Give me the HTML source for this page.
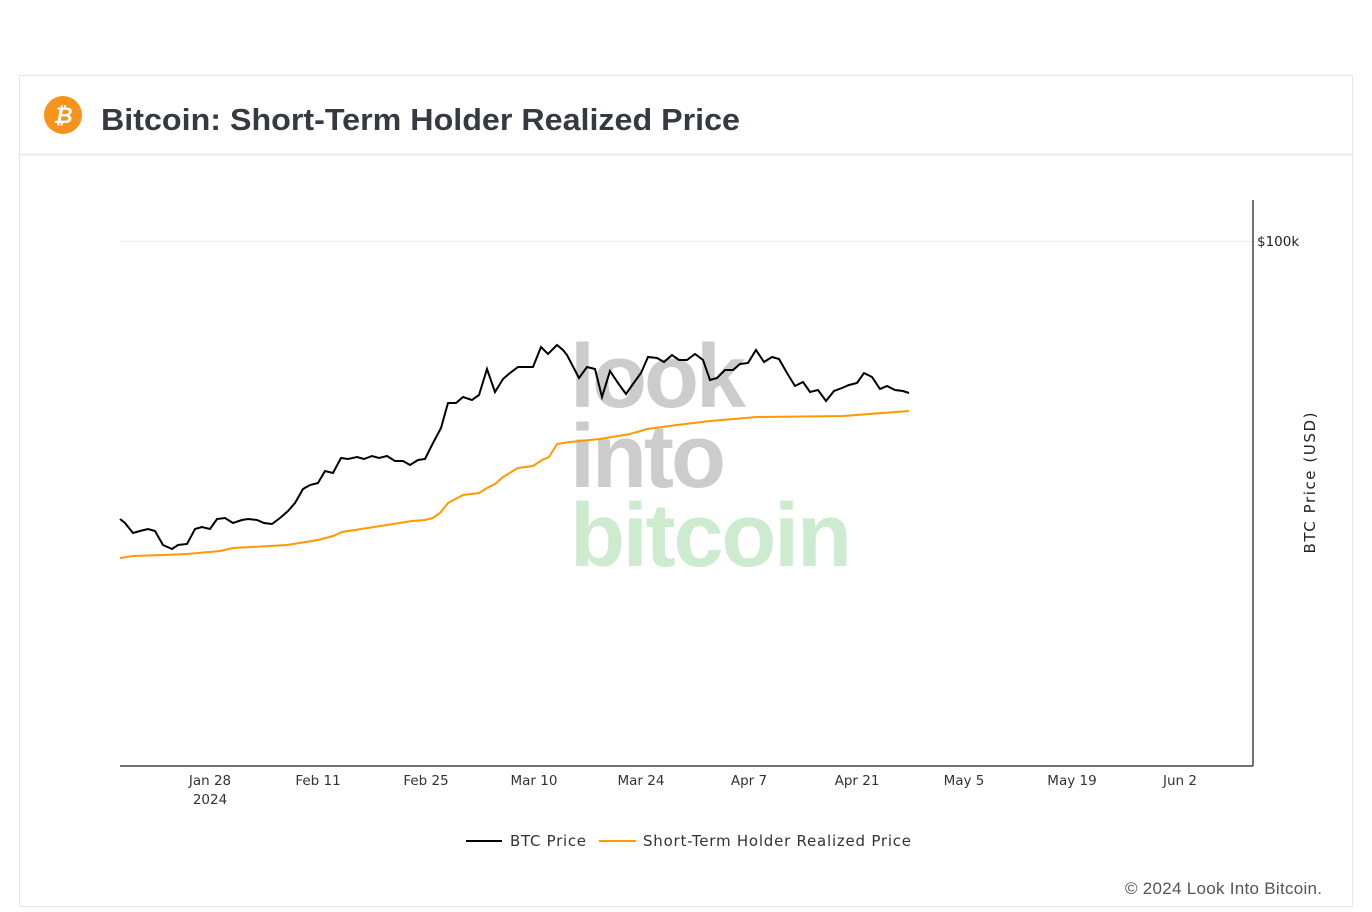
<!DOCTYPE html>
<html><head><meta charset="utf-8"><style>
html,body{margin:0;padding:0;background:#fff;width:1372px;height:912px;overflow:hidden;font-family:"Liberation Sans",sans-serif}
</style></head><body>
<svg width="1372" height="912" xmlns="http://www.w3.org/2000/svg" style="position:absolute;left:0;top:0">
<rect x="19.5" y="75.5" width="1333" height="831" fill="#fff" stroke="#e6e6e6"/>
<line x1="20" y1="154.5" x2="1352" y2="154.5" stroke="#ebebeb" stroke-width="2"/>
<circle cx="63" cy="115" r="19" fill="#f7931a"/>
<text x="63" y="123" font-size="22" font-weight="bold" fill="#fff" text-anchor="middle" font-style="italic">₿</text>
<text x="101" y="130" font-size="31" font-weight="bold" fill="#343a40" textLength="639" lengthAdjust="spacingAndGlyphs">Bitcoin: Short-Term Holder Realized Price</text>
<line x1="120" y1="241.5" x2="1253" y2="241.5" stroke="#eee"/>
<text x="570" y="407" font-size="90" font-weight="bold" fill="#cccccc" letter-spacing="-3">look</text>
<text x="570" y="487" font-size="90" font-weight="bold" fill="#cccccc" letter-spacing="-3">into</text>
<text x="570" y="566" font-size="90" font-weight="bold" fill="#cdeccf" textLength="282" lengthAdjust="spacing">bitcoin</text>
<line x1="1253" y1="200" x2="1253" y2="766" stroke="#444" stroke-width="1.5"/>
<line x1="120" y1="766" x2="1253" y2="766" stroke="#444" stroke-width="1.5"/>
<g font-family="DejaVu Sans, sans-serif">
<text x="1257" y="246" font-size="13.5" fill="#222">$100k</text>
<text transform="translate(1315,483) rotate(-90)" font-size="15" fill="#222" text-anchor="middle" textLength="141">BTC Price (USD)</text>
<g font-size="13.5" fill="#333" text-anchor="middle">
<text x="210" y="785">Jan 28</text><text x="210" y="804">2024</text>
<text x="318" y="785">Feb 11</text><text x="426" y="785">Feb 25</text>
<text x="534" y="785">Mar 10</text><text x="641" y="785">Mar 24</text>
<text x="749" y="785">Apr 7</text><text x="857" y="785">Apr 21</text>
<text x="964" y="785">May 5</text><text x="1072" y="785">May 19</text>
<text x="1180" y="785">Jun 2</text>
</g>
<text x="510" y="846" font-size="15" fill="#333" textLength="76">BTC Price</text>
<text x="643" y="846" font-size="15" fill="#333" textLength="268">Short-Term Holder Realized Price</text>
</g>
<polyline fill="none" stroke="#ff9900" stroke-width="2" points="120,558 133,556 163,555 187,554 220,551 233,548 287,545 318,540 333,536 342,532 387,525 412,521 425,520 433,518 440,513 448,503 463,495 479,493 487,488 495,484 503,477 518,468 533,466 542,460 549,457 557,444 570,442 600,439 630,434 647,429 677,425 710,421 757,417 843,416 909,411"/>
<polyline fill="none" stroke="#000" stroke-width="2" points="120,519 125,523 133,533 140,531 148,529 155,531 163,545 172,549 178,545 187,544 195,529 202,527 210,529 217,519 225,518 233,523 242,520 248,519 257,520 264,523 272,524 280,518 288,511 295,503 303,489 310,485 318,483 325,471 333,473 341,458 348,459 357,457 364,459 372,456 379,458 387,456 395,461 403,461 410,465 418,460 425,459 433,443 441,428 448,403 456,403 463,397 472,400 479,395 487,369 495,392 503,379 510,373 518,367 533,367 541,347 548,354 557,345 563,350 567,355 579,378 587,367 595,369 602,397 610,371 618,383 626,394 633,384 641,373 648,357 657,358 664,362 672,355 679,360 687,360 695,354 703,360 710,380 717,378 725,370 733,370 740,364 748,363 756,350 764,362 772,357 779,359 787,373 795,386 803,382 810,392 818,390 826,401 834,391 842,388 849,385 857,383 864,373 872,377 880,389 887,386 895,390 903,391 909,393"/>
<line x1="466" y1="841" x2="502" y2="841" stroke="#000" stroke-width="2"/>
<line x1="599" y1="841" x2="636" y2="841" stroke="#ff9900" stroke-width="2"/>
<text x="1322" y="894" font-size="17" fill="#555" text-anchor="end" textLength="197">© 2024 Look Into Bitcoin.</text>
</svg>
</body></html>
